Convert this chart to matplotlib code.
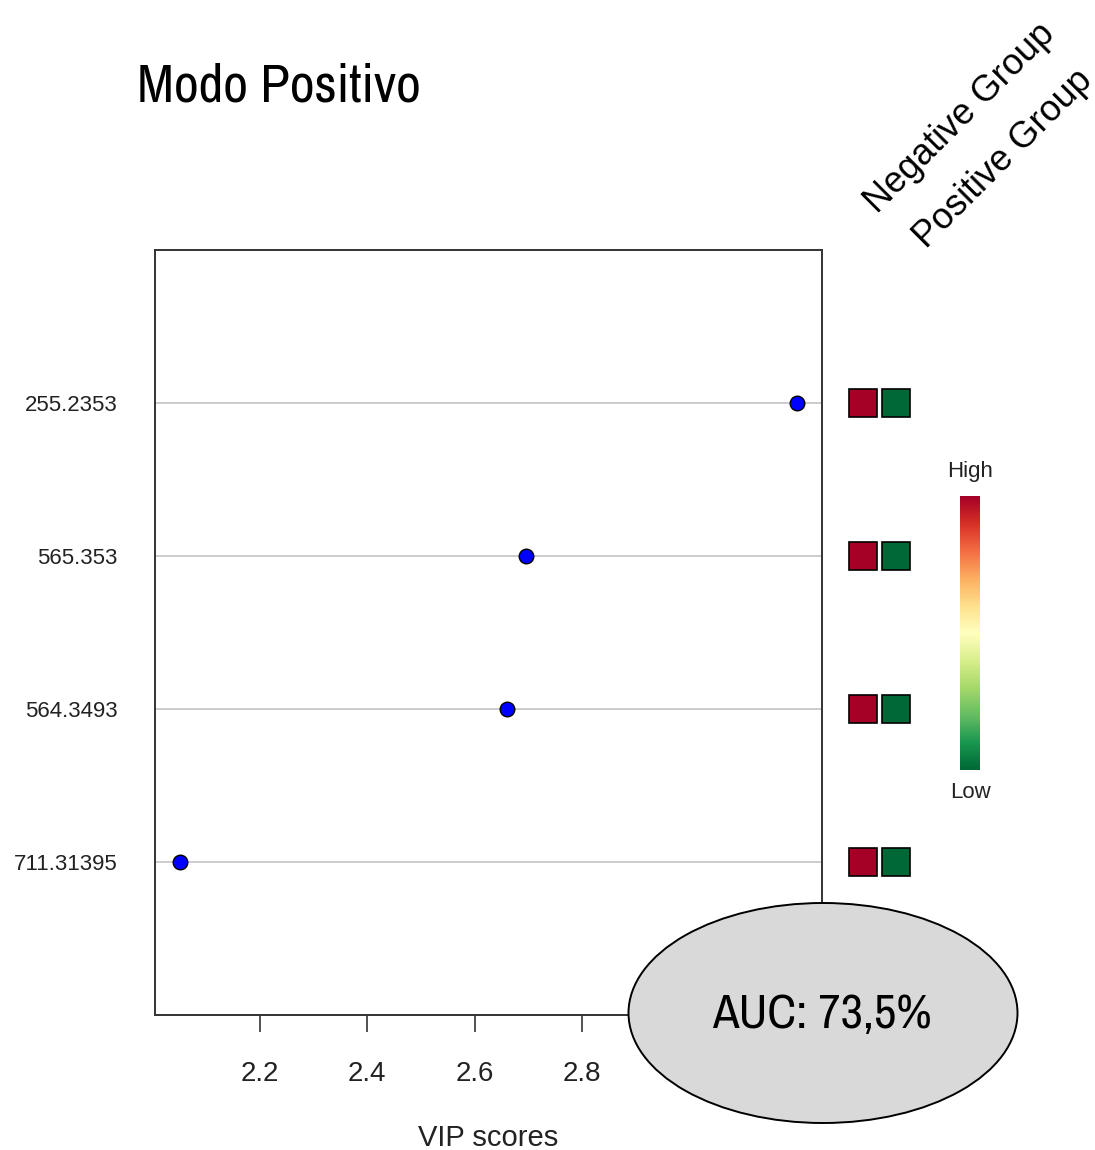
import numpy as np
import matplotlib.pyplot as plt
from matplotlib.patches import Ellipse, Rectangle
from matplotlib.colors import Normalize

# features, top to bottom
features = ['255.2353', '565.353', '564.3493', '711.31395']
vip_scores = [3.201, 2.695, 2.661, 2.051]
groups = ['Negative Group', 'Positive Group']
# relative level per group (1 = high, 0 = low)
neg_levels = [1.0, 1.0, 1.0, 1.0]
pos_levels = [0.0, 0.0, 0.0, 0.0]
x_ticks = [2.2, 2.4, 2.6, 2.8, 3.0, 3.2]
auc_text = 'AUC: 73,5%'
title = 'Modo Positivo'

W, H = 1095, 1150
narrow = ['Archivo Narrow', 'Liberation Sans', 'DejaVu Sans']
plt.rcParams['font.family'] = ['Liberation Sans', 'DejaVu Sans']

fig = plt.figure(figsize=(W / 100, H / 100), dpi=100)


def fx(px):
    return px / W


def fy(py):
    return 1 - py / H


# main VIP axes
ax = fig.add_axes([fx(155), fy(1015), fx(822 - 155), (1015 - 250) / H])
n = len(features)
ypos = np.arange(n, 0, -1)
for y in ypos:
    ax.axhline(y, color='#c8c8c8', lw=1.3, zorder=1)
ax.scatter(vip_scores, ypos, s=110, color='#0000ff', edgecolor='black',
           linewidth=1.0, zorder=3)
lo, hi = min(vip_scores), max(vip_scores)
pad = (hi - lo) * 0.04
ax.set_xlim(lo - pad, hi + pad)
ax.set_ylim(0, n + 1)
ax.set_yticks(ypos)
ax.set_yticklabels(features, fontsize=16, color='#222222')
ax.tick_params(axis='y', length=0, pad=27)
ax.set_xticks(x_ticks)
ax.set_xticklabels([f'{t:.1f}' for t in x_ticks], fontsize=20, color='#222222')
ax.tick_params(axis='x', length=12, width=1.2, pad=21, color='#333333')
ax.set_xlabel('VIP scores', fontsize=21, labelpad=27, color='#222222')
for sp in ax.spines.values():
    sp.set_linewidth(1.4)
    sp.set_color('#333333')

# group mini heatmap
cmap = plt.get_cmap('RdYlGn_r')
norm = Normalize(0, 1)
axh = fig.add_axes([fx(846.5), fy(1015), fx(66), (1015 - 250) / H])
axh.set_xlim(-0.5, 1.5)
axh.set_ylim(0, n + 1)
axh.axis('off')
for col, levels in enumerate([neg_levels, pos_levels]):
    for y, v in zip(ypos, levels):
        axh.add_patch(Rectangle((col - 0.425, y - 0.0915), 0.85, 0.183,
                                facecolor=cmap(norm(v)), edgecolor='black',
                                linewidth=1.2))

# group labels (rotated)
fig.text(fx(877), fy(214), groups[0], rotation=45, rotation_mode='anchor',
         ha='left', va='baseline', fontsize=26)
fig.text(fx(926), fy(249), groups[1], rotation=45, rotation_mode='anchor',
         ha='left', va='baseline', fontsize=26)

# colour key
axc = fig.add_axes([fx(960), fy(770), fx(20), (770 - 496) / H])
grad = np.linspace(1, 0, 256).reshape(-1, 1)
axc.imshow(grad, aspect='auto', cmap=cmap, norm=norm)
axc.axis('off')
fig.text(fx(970), fy(472), 'High', ha='center', va='center', fontsize=16,
         color='#222222')
fig.text(fx(970), fy(792), 'Low', ha='center', va='center', fontsize=16,
         color='#222222')

# title
fig.text(fx(137), fy(102), title, ha='left', va='baseline', fontsize=39,
         family=narrow)

# AUC bubble
ell = Ellipse((fx(823), fy(1013)), fx(389), 220 / H, transform=fig.transFigure,
              facecolor='#d9d9d9', edgecolor='black', linewidth=1.4, zorder=10)
fig.add_artist(ell)
fig.text(fx(822), fy(1015), auc_text, ha='center', va='center', fontsize=35,
         family=narrow, zorder=11)

fig.savefig('out.png', dpi=100)
